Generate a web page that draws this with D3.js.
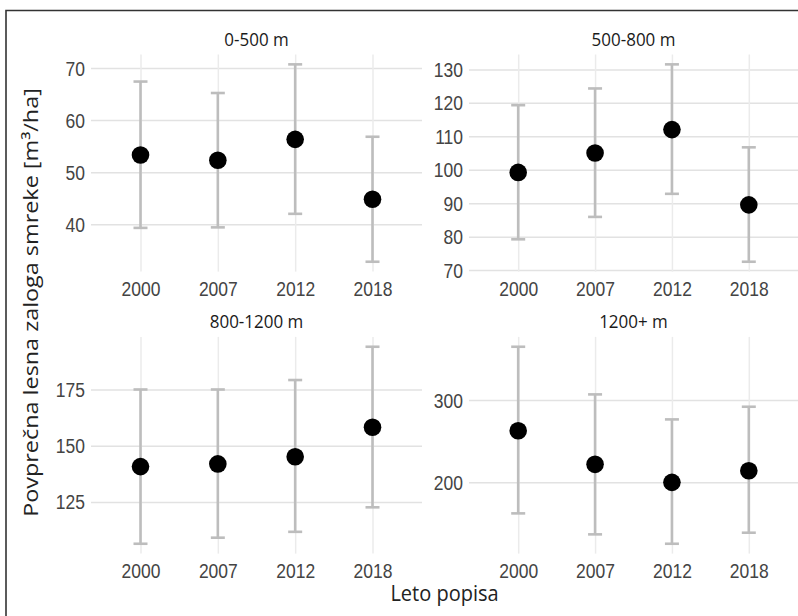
<!DOCTYPE html>
<html>
<head>
<meta charset="utf-8">
<script src="https://cdn.jsdelivr.net/npm/d3@7"></script>
<style>
  html, body { margin: 0; padding: 0; background: #fff; }
  svg { display: block; font-family: "Open Sans", "Noto Sans", sans-serif; }
</style>
</head>
<body>
<svg id="chart" width="798" height="616"></svg>
<script>
// ---- Data ----
const years = ["2000", "2007", "2012", "2018"];
const panelTitles = ["0-500 m", "500-800 m", "800-1200 m", "1200+ m"];

const means0 = [53.3, 52.3, 56.3, 44.8];
const lower0 = [39.3, 39.4, 42.0, 32.8];
const upper0 = [67.4, 65.2, 70.7, 56.8];

const means1 = [99.2, 105.0, 112.0, 89.5];
const lower1 = [79.2, 85.9, 92.8, 72.5];
const upper1 = [119.3, 124.3, 131.5, 106.7];

const means2 = [140.7, 141.9, 145.1, 158.2];
const lower2 = [106.4, 109.1, 111.7, 122.6];
const upper2 = [175.0, 175.0, 179.2, 194.0];

const means3 = [262.7, 221.9, 200.0, 214.1];
const lower3 = [162.3, 136.8, 125.4, 138.8];
const upper3 = [364.8, 306.9, 276.5, 291.9];

const ticks0 = [40, 50, 60, 70];
const ticks1 = [70, 80, 90, 100, 110, 120, 130];
const ticks2 = [125, 150, 175];
const ticks3 = [200, 300];

const xTitle = "Leto popisa";
const yTitle = "Povprečna lesna zaloga smreke [m³/ha]";

// ---- Layout ----
const svg = d3.select("#chart");
const colX = [[91, 422], [469, 798]];
const rowY = [[54.5, 271.6], [336.9, 553.6]];
const vStretch = 1.12;   // text in the reference is slightly taller than wide

const panels = [
  { title: panelTitles[0], m: means0, lo: lower0, hi: upper0, ticks: ticks0, col: 0, row: 0 },
  { title: panelTitles[1], m: means1, lo: lower1, hi: upper1, ticks: ticks1, col: 1, row: 0 },
  { title: panelTitles[2], m: means2, lo: lower2, hi: upper2, ticks: ticks2, col: 0, row: 1 },
  { title: panelTitles[3], m: means3, lo: lower3, hi: upper3, ticks: ticks3, col: 1, row: 1 }
];

const tickColor = "#444";
const tickSize = 17.5;

panels.forEach(p => {
  const [x0, x1] = colX[p.col];
  const [y0, y1] = rowY[p.row];
  const lo = d3.min(p.lo), hi = d3.max(p.hi);
  const pad = (hi - lo) * 0.05;
  const y = d3.scaleLinear().domain([lo - pad, hi + pad]).range([y1, y0]);
  const x = d3.scalePoint().domain(years).range([x0, x1]).padding(0.64);

  const g = svg.append("g");

  // horizontal gridlines
  const gy = g.append("g").attr("transform", `translate(${x0},0)`)
    .call(d3.axisLeft(y).tickValues(p.ticks).tickSize(-(x1 - x0)).tickFormat(""));
  gy.select(".domain").remove();
  gy.selectAll("line").attr("stroke", "#e2e2e2").attr("stroke-width", 1.5);

  // vertical gridlines
  const gx = g.append("g").attr("transform", `translate(0,${y1})`)
    .call(d3.axisBottom(x).tickSize(-(y1 - y0)).tickFormat(""));
  gx.select(".domain").remove();
  gx.selectAll("line").attr("stroke", "#ebebeb").attr("stroke-width", 1.5);

  // y tick labels
  const ay = g.append("g").attr("transform", `translate(${x0},0)`)
    .call(d3.axisLeft(y).tickValues(p.ticks).tickSize(0).tickPadding(6));
  ay.select(".domain").remove();
  ay.selectAll("text").attr("fill", tickColor).style("font-size", tickSize + "px")
    .attr("x", -6).attr("y", 0).attr("dy", 0)
    .attr("transform", `translate(0,${tickSize * 0.714 * vStretch / 2}) scale(1,${vStretch})`);

  // x tick labels
  const ax = g.append("g").attr("transform", `translate(0,${y1})`)
    .call(d3.axisBottom(x).tickSize(0).tickPadding(12));
  ax.select(".domain").remove();
  ax.selectAll("text").attr("fill", tickColor).style("font-size", tickSize + "px")
    .attr("y", 0).attr("dy", 0)
    .attr("transform", `translate(0,24.8) scale(1,${vStretch})`);

  // error bars
  const data = years.map((yr, i) => ({ yr, m: p.m[i], lo: p.lo[i], hi: p.hi[i] }));
  const eb = g.append("g").attr("stroke", "#bdbdbd").attr("stroke-width", 2.6).attr("fill", "none");
  eb.selectAll(".v").data(data).join("line")
    .attr("x1", d => x(d.yr)).attr("x2", d => x(d.yr))
    .attr("y1", d => y(d.lo)).attr("y2", d => y(d.hi));
  eb.selectAll(".t").data(data).join("line")
    .attr("x1", d => x(d.yr) - 7).attr("x2", d => x(d.yr) + 7)
    .attr("y1", d => y(d.hi)).attr("y2", d => y(d.hi));
  eb.selectAll(".b").data(data).join("line")
    .attr("x1", d => x(d.yr) - 7).attr("x2", d => x(d.yr) + 7)
    .attr("y1", d => y(d.lo)).attr("y2", d => y(d.lo));

  // points
  g.append("g").selectAll("circle").data(data).join("circle")
    .attr("cx", d => x(d.yr)).attr("cy", d => y(d.m)).attr("r", 8.8).attr("fill", "#000");

  // strip title
  g.append("text")
    .attr("transform", `translate(${(x0 + x1) / 2},${y0 - 8.5}) scale(1,${vStretch})`)
    .attr("text-anchor", "middle")
    .attr("fill", "#1a1a1a")
    .style("font-size", "17px")
    .text(p.title);
});

// axis titles
svg.append("text")
  .attr("transform", `translate(${(colX[0][0] + colX[1][1]) / 2},601) scale(1,${vStretch})`)
  .attr("text-anchor", "middle").attr("fill", "#222")
  .style("font-size", "20px")
  .text(xTitle);

svg.append("text")
  .attr("transform", `translate(38,302.5) rotate(-90) scale(1.17,1)`)
  .attr("text-anchor", "middle").attr("fill", "#222")
  .style("font-size", "20px")
  .text(yTitle);

// frame (left and top border)
svg.append("path")
  .attr("d", "M6,616 V10.5 H798")
  .attr("fill", "none").attr("stroke", "#333").attr("stroke-width", 1.6);
</script>
</body>
</html>
